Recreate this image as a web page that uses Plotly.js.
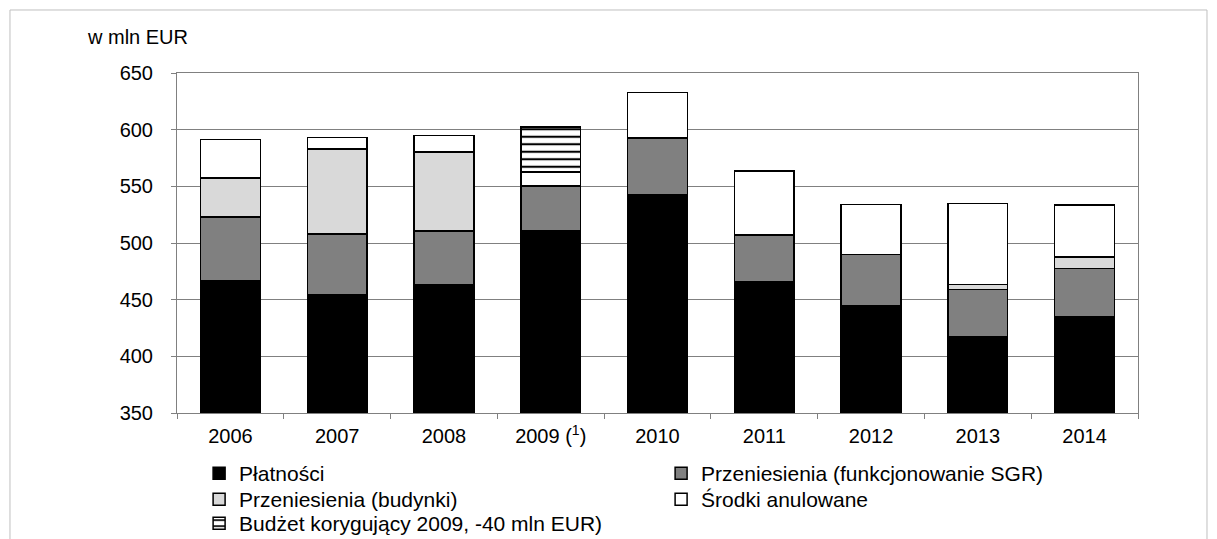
<!DOCTYPE html>
<html>
<head>
<meta charset="utf-8">
<script src="https://cdn.plot.ly/plotly-3.0.1.min.js"></script>
<style>html,body{margin:0;padding:0;background:#fff;}#chart{width:1217px;height:539px;}</style>
</head>
<body>
<div id="chart"></div>
<script>
const years = ['2006', '2007', '2008', '2009 (<sup>1</sup>)', '2010', '2011', '2012', '2013', '2014'];
const platnosci = [467, 454, 463.5, 510.5, 543, 466, 444.5, 417, 435];
const przeniesieniaSGR = [56, 54, 47, 40, 49.5, 41, 45.5, 42, 42.5];
const przeniesieniaBudynki = [34.5, 75, 70, null, null, null, null, 4.5, 10];
const srodkiAnulowane = [34, 10, 14.5, 12, 40.5, 56.5, 44, 71.5, 46];
const budzetKorygujacy = [null, null, null, 40, null, null, null, null, null];
const seriesNames = ['Płatności', 'Przeniesienia (funkcjonowanie SGR)', 'Przeniesienia (budynki)', 'Środki anulowane', 'Budżet korygujący 2009, -40 mln EUR)'];

const FONT = 'Liberation Sans, Arial, sans-serif';
const line = {color: '#000', width: 1.5};
function bar(name, y, color, legendId, extraMarker) {
  return {
    type: 'bar', name: name, x: years, y: y,
    width: 0.56, legend: legendId,
    marker: Object.assign({color: color, line: line}, extraMarker || {}),
    hoverinfo: 'x+y+name'
  };
}
const data = [
  bar(seriesNames[0], platnosci, '#000000', 'legend'),
  bar(seriesNames[1], przeniesieniaSGR, '#808080', 'legend'),
  bar(seriesNames[2], przeniesieniaBudynki, '#d9d9d9', 'legend2'),
  bar(seriesNames[3], srodkiAnulowane, '#ffffff', 'legend2'),
  bar(seriesNames[4], budzetKorygujacy, '#ffffff', 'legend3',
    {pattern: {shape: '-', fgcolor: '#000000', bgcolor: '#ffffff', size: 7.5, solidity: 0.28, fillmode: 'replace'}})
];

function legendRow(yPaper) {
  return {
    orientation: 'h', x: 0.023, xanchor: 'left', y: yPaper, yanchor: 'top',
    entrywidth: 417, entrywidthmode: 'pixels',
    font: {family: FONT, size: 21, color: '#000'},
    bgcolor: 'rgba(0,0,0,0)', borderwidth: 0, traceorder: 'normal', tracegroupgap: 0
  };
}

const layout = {
  width: 1217, height: 539,
  margin: {l: 177, r: 79, t: 73, b: 126, pad: 0, autoexpand: false},
  paper_bgcolor: '#ffffff', plot_bgcolor: '#ffffff',
  barmode: 'stack',
  font: {family: FONT, size: 20, color: '#000'},
  showlegend: true,
  legend: legendRow(-0.1176),
  legend2: legendRow(-0.1941),
  legend3: legendRow(-0.2647),
  xaxis: {
    type: 'category', showgrid: false, zeroline: false,
    showline: true, linecolor: '#808080', linewidth: 1, mirror: true,
    ticks: 'outside', tickson: 'boundaries', ticklen: 5, tickcolor: '#808080',
    ticklabelstandoff: 5,
    tickfont: {family: FONT, size: 20, color: '#000'}, fixedrange: true
  },
  yaxis: {
    range: [350, 650], dtick: 50, tick0: 350, showgrid: true, gridcolor: '#808080', gridwidth: 1,
    zeroline: false, showline: true, linecolor: '#808080', linewidth: 1, mirror: true,
    ticks: 'outside', ticklen: 5, tickcolor: '#808080', ticklabelstandoff: 14,
    tickfont: {family: FONT, size: 20, color: '#000'}, fixedrange: true
  },
  annotations: [{
    text: 'w mln EUR', xref: 'paper', yref: 'paper', x: -0.0957, y: 1.106,
    xanchor: 'left', yanchor: 'middle', showarrow: false,
    font: {family: FONT, size: 20, color: '#000'}
  }],
  shapes: [{
    type: 'rect', xref: 'paper', yref: 'paper', x0: -0.1738, x1: 1.0718, y0: -0.4, y1: 1.1853,
    line: {color: '#bfbfbf', width: 1}, fillcolor: 'rgba(0,0,0,0)', layer: 'below'
  }]
};

Plotly.newPlot('chart', data, layout, {displayModeBar: false, staticPlot: true});
</script>
</body>
</html>
